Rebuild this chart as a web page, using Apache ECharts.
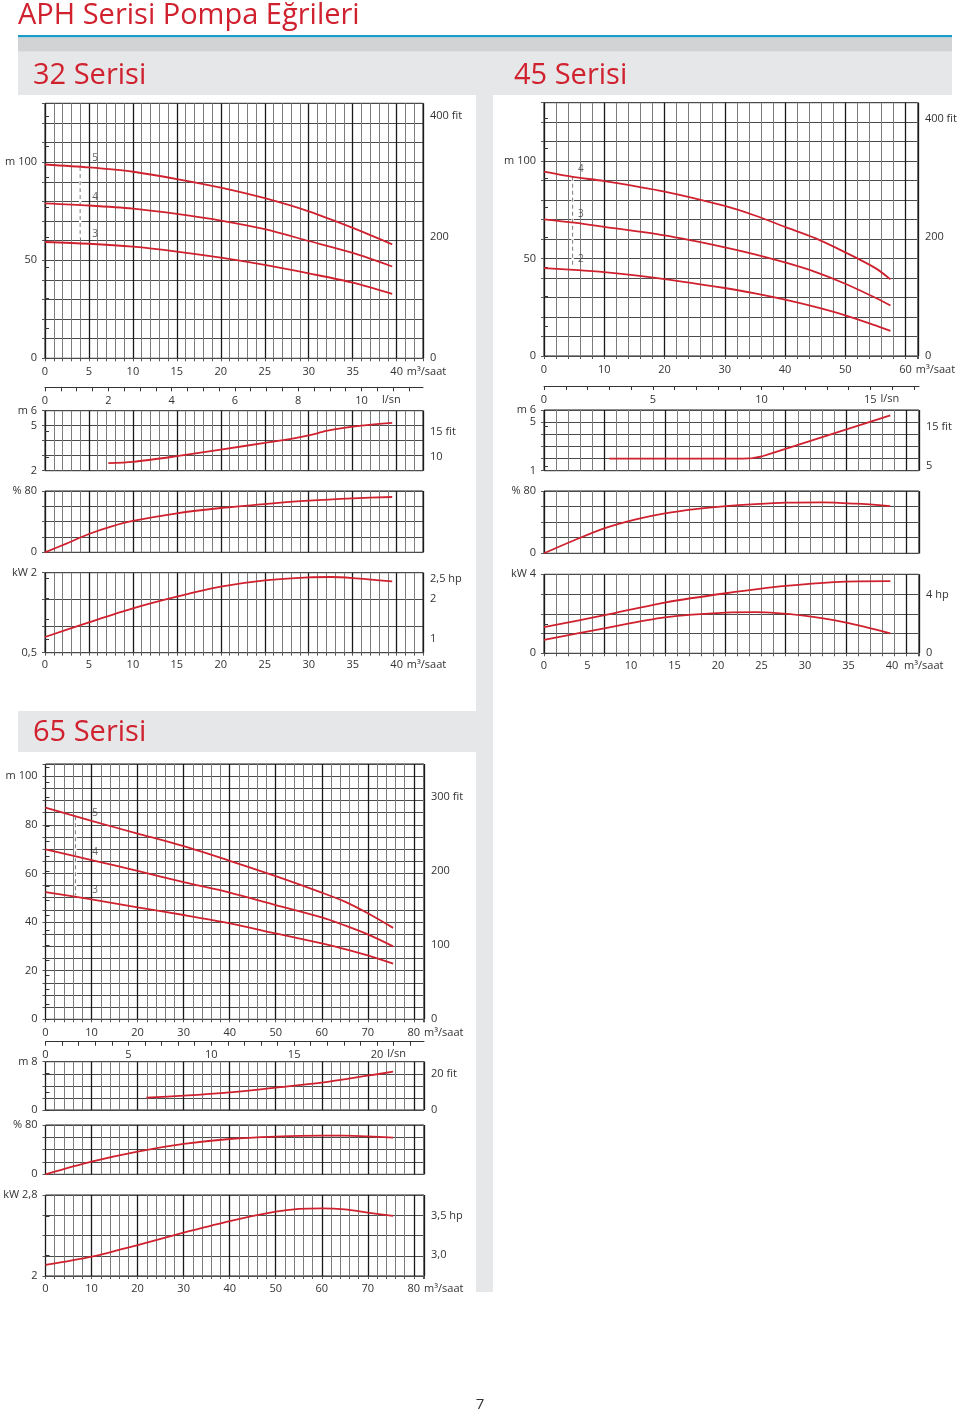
<!DOCTYPE html>
<html><head><meta charset="utf-8">
<script src="https://cdn.jsdelivr.net/npm/echarts@6/dist/echarts.min.js"></script>
<style>html,body{margin:0;padding:0;background:#fff}#c{width:960px;height:1413px}</style>
</head><body><div id="c"></div>
<script>
// ---------------- DATA ----------------
// 32 Serisi  (flow in m3/saat)
const q32Head = [0, 5, 10, 15, 20, 25, 30, 35, 39.5];
const h32St5 = [98.8, 97.3, 95.1, 91.4, 87.0, 81.6, 74.9, 66.5, 58.1];
const h32St4 = [79.0, 77.9, 76.3, 73.6, 70.2, 65.8, 59.8, 53.7, 46.8];
const h32St3 = [59.3, 58.4, 56.9, 54.4, 51.3, 47.6, 43.3, 38.6, 32.8];
const q32Npsh = [7.2, 10, 15, 20, 25, 28, 30, 32, 34, 36, 39.5];
const npsh32 = [2.51, 2.59, 2.97, 3.41, 3.85, 4.12, 4.35, 4.65, 4.86, 5.01, 5.19];
const q32Eff = [0, 2.5, 5, 7.5, 10, 15, 20, 25, 30, 35, 39.5];
const eff32 = [0, 11.7, 23.9, 33.5, 40.9, 50.9, 57.8, 63.0, 67.4, 70.4, 72.2];
const q32Pow = [0, 5, 10, 15, 20, 25, 30, 32.5, 35, 39.5];
const pow32 = [0.794, 1.069, 1.331, 1.55, 1.738, 1.856, 1.913, 1.919, 1.90, 1.838];
const stages32 = [['5', 5.7, 102], ['4', 5.7, 82.4], ['3', 5.7, 63.3]];
const dash32 = [[4, 97.5], [4, 61.5]];

// 45 Serisi
const q45Head = [0, 5, 10, 20, 30, 35, 40, 45, 50, 55, 57.5];
const h45St4 = [94.6, 91.8, 89.8, 84.4, 77.0, 72.1, 66.3, 60.5, 53.2, 45.1, 39.3];
const h45St3 = [70.1, 68.4, 66.3, 61.9, 55.8, 52.2, 48.0, 43.2, 37.1, 29.9, 25.9];
const h45St2 = [45.1, 44.2, 43.0, 39.5, 34.9, 32.1, 28.9, 25.2, 20.9, 15.7, 12.9];
const q45Npsh = [10.8, 33, 34.5, 36, 37.5, 57.3];
const npsh45 = [1.99, 1.99, 2.03, 2.17, 2.40, 5.56];
const q45Eff = [0, 5.1, 10.2, 15.2, 20, 25, 30.1, 35, 40, 46.1, 51.6, 57.3];
const eff45 = [0, 17.1, 32.6, 43.6, 51.3, 56.8, 60.7, 63.2, 65.0, 65.4, 63.7, 60.7];
const q45PowA = [0, 10.2, 20, 30.1, 40, 49.9, 57.3];
const pow45A = [1.32, 1.94, 2.57, 3.04, 3.41, 3.63, 3.65];
const q45PowB = [0, 10.2, 20, 30.1, 35, 43.3, 50, 57.3];
const pow45B = [0.675, 1.28, 1.82, 2.06, 2.08, 1.89, 1.55, 1.01];
const stages45 = [['4', 6.1, 96], ['3', 6.1, 72.7], ['2', 6.1, 49.6]];
const dash45 = [[4.75, 92], [4.75, 46]];

// 65 Serisi
const q65Head = [0, 10, 20, 30, 40, 50, 60, 65, 70, 75.5];
const h65St5 = [87.1, 81.6, 76.4, 71.2, 65.2, 58.9, 52.1, 48.4, 43.6, 37.6];
const h65St4 = [69.9, 65.5, 61.0, 56.4, 52.1, 47.0, 41.9, 38.6, 34.9, 30.0];
const h65St3 = [52.3, 49.3, 46.0, 42.9, 39.5, 35.3, 31.2, 28.9, 26.3, 22.9];
const q65Npsh = [21.9, 30, 40, 50, 60, 70, 75.5];
const npsh65 = [2.04, 2.37, 2.92, 3.70, 4.52, 5.68, 6.34];
const q65Eff = [0, 10, 20, 30, 40, 50, 60, 65, 70, 75.5];
const eff65 = [0, 20.5, 36.8, 49.2, 57.3, 61.1, 62.7, 62.7, 61.6, 59.5];
const q65Pow = [0, 10, 20, 30, 40, 50, 55, 60, 65, 70, 75.5];
const pow65 = [2.109, 2.191, 2.306, 2.428, 2.543, 2.635, 2.662, 2.668, 2.658, 2.626, 2.593];
const stages65 = [['5', 10.75, 84.7], ['4', 10.75, 68.9], ['3', 10.75, 53.2]];
const dash65 = [[6.5, 83.5], [6.5, 51]];

// tick labels
const headLeft = [[0, '0'], [50, '50'], [100, 'm 100']];
const headFit = [[0, '0'], [200, '200'], [400, '400 fit']];
const effLeft = [[0, '0'], [80, '% 80']];
const y32Npsh = [[2, '2'], [5, '5'], [6, 'm 6']];
const r32Npsh = [[10, '10'], [15, '15 fit']];
const y32Pow = [[0.5, '0,5'], [2, 'kW 2']];
const r32Pow = [[1, '1'], [2, '2'], [2.5, '2,5 hp']];
const y45Npsh = [[1, '1'], [5, '5'], [6, 'm 6']];
const r45Npsh = [[5, '5'], [15, '15 fit']];
const y45Pow = [[0, '0'], [4, 'kW 4']];
const r45Pow = [[0, '0'], [4, '4 hp']];
const y65Head = [[0, '0'], [20, '20'], [40, '40'], [60, '60'], [80, '80'], [100, 'm 100']];
const r65Head = [[0, '0'], [100, '100'], [200, '200'], [300, '300 fit']];
const y65Npsh = [[0, '0'], [8, 'm 8']];
const r65Npsh = [[0, '0'], [20, '20 fit']];
const y65Pow = [[2, '2'], [2.8, 'kW 2,8']];
const r65Pow = [[3, '3,0'], [3.5, '3,5 hp']];
const lsn32 = [0, 2, 4, 6, 8, 10];
const lsn45 = [0, 5, 10, 15];
const lsn65 = [0, 5, 10, 15, 20];

// ---------------- BUILD ----------------
const FONT = "'Open Sans', 'Noto Sans', sans-serif";
const RED = '#d0212f';
const grid = [], xAxis = [], yAxis = [], series = [];
const lbl = (e) => Object.assign({ color: '#333', fontSize: 11, fontFamily: FONT }, e || {});
const fmt = (pairs) => (v) => { for (const [k, t] of pairs) if (Math.abs(v - k) < 1e-6) return t; return ''; };
const isMult = (v, s) => Math.abs(v / s - Math.round(v / s)) < 1e-6;
const range = (a, b, s) => { const r = []; for (let v = a; v <= b + 1e-9; v += s) r.push(Math.round(v * 1000) / 1000); return r; };

function chartBox(p) {
  const gi = grid.length;
  grid.push({ left: p.left, top: p.top, width: p.width, height: p.height, show: true,
    borderColor: '#1e1e1e', borderWidth: 1, backgroundColor: 'rgba(0,0,0,0)' });
  // minor vertical lines
  xAxis.push({ gridIndex: gi, type: 'value', position: 'bottom', min: 0, max: p.xmax, interval: p.xMinor,
    axisLine: { show: false }, axisTick: { show: !!p.ticks, length: 3, lineStyle: { color: '#555' } },
    axisLabel: { show: false }, splitLine: { show: true, lineStyle: { color: '#7c7c7c', width: 1 } } });
  // major vertical lines
  const major = { gridIndex: gi, type: 'value', position: 'bottom', min: 0, max: p.xmax, interval: p.xMajor,
    axisLine: { show: false }, axisTick: { show: false }, axisLabel: { show: false },
    splitLine: { show: true, lineStyle: { color: '#1a1a1a', width: 1.3 } } };
  const xl = p.xLabels;
  if (xl && !xl.axisMax) {
    major.axisLabel = lbl({ show: true, margin: xl.margin, interval: 0, formatter: (v) => isMult(v, xl.step) ? String(v) : '' });
    Object.assign(major, { name: 'm³/saat', nameLocation: 'end', nameGap: xl.gap,
      nameTextStyle: lbl({ align: 'left', verticalAlign: 'top', padding: [xl.margin, 0, 0, 0] }) });
  }
  xAxis.push(major);
  const xi = xAxis.length - 1;
  if (xl && xl.axisMax) {
    xAxis.push({ gridIndex: gi, type: 'value', position: 'bottom', min: 0, max: xl.axisMax, interval: xl.step,
      axisLine: { show: false }, axisTick: { show: false }, splitLine: { show: false },
      axisLabel: lbl({ show: true, margin: xl.margin, interval: 0, formatter: (v) => isMult(v, xl.step) ? String(v) : '' }),
      name: 'm³/saat', nameLocation: 'end', nameGap: xl.gap,
      nameTextStyle: lbl({ align: 'left', verticalAlign: 'top', padding: [xl.margin, 0, 0, 0] }) });
  }
  if (p.lsn) {
    xAxis.push({ gridIndex: gi, type: 'value', position: 'top', offset: p.lsn.offset, min: 0, max: p.lsn.max,
      axisLine: { show: true, lineStyle: { color: '#333', width: 1 } },
      axisTick: { show: true, inside: true, length: 4, customValues: range(0, p.lsn.max, p.lsn.tick), lineStyle: { color: '#333' } },
      axisLabel: lbl({ show: true, inside: true, margin: 8, customValues: p.lsn.labels, formatter: (v) => String(v) }),
      splitLine: { show: false },
      name: 'l/sn', nameLocation: 'end', nameGap: p.lsn.gap,
      nameTextStyle: lbl({ align: 'left', verticalAlign: 'top', padding: [7, 0, 0, 0] }) });
  }
  yAxis.push({ gridIndex: gi, type: 'value', position: 'left', min: p.ymin, max: p.ymax, interval: p.yInt,
    axisLine: { show: false }, axisTick: { show: true, length: 3, lineStyle: { color: '#555' } },
    axisLabel: lbl({ margin: 8, interval: 0, formatter: fmt(p.yLabels) }),
    splitLine: { show: true, lineStyle: { color: '#4a4a4a', width: 1 } } });
  const yi = yAxis.length - 1;
  if (p.right) {
    yAxis.push({ gridIndex: gi, type: 'value', position: 'right', min: p.right.min, max: p.right.max,
      axisLine: { show: false },
      axisTick: { show: true, length: 4, customValues: p.right.ticks, lineStyle: { color: '#333' } },
      axisLabel: lbl({ margin: 7, customValues: p.right.labels.map(a => a[0]), formatter: fmt(p.right.labels) }),
      splitLine: { show: false } });
  }
  return { xi, yi };
}

function curve(ax, xs, ys, smooth) {
  series.push({ type: 'line', xAxisIndex: ax.xi, yAxisIndex: ax.yi, data: xs.map((x, i) => [x, ys[i]]),
    smooth: smooth === undefined ? 0.3 : smooth, symbol: 'none', showSymbol: false, silent: true,
    lineStyle: { color: RED, width: 1.8 }, z: 5 });
}
function stageMarks(ax, st, dash) {
  series.push({ type: 'scatter', xAxisIndex: ax.xi, yAxisIndex: ax.yi, symbol: 'circle', symbolSize: 2, silent: true,
    itemStyle: { color: 'rgba(0,0,0,0)' }, data: st.map(s => ({ value: [s[1], s[2]], name: s[0] })),
    label: { show: true, position: 'inside', formatter: (d) => d.name, color: '#3a3a3a', fontSize: 10, fontFamily: FONT }, z: 6 });
  // white gap in the grid under the dashed marker line, then the dashes
  series.push({ type: 'line', xAxisIndex: ax.xi, yAxisIndex: ax.yi, data: dash, symbol: 'none', silent: true,
    lineStyle: { color: '#ffffff', width: 2.5 }, z: 3 });
  series.push({ type: 'line', xAxisIndex: ax.xi, yAxisIndex: ax.yi, data: dash, symbol: 'none', silent: true,
    lineStyle: { color: '#7a7a7a', width: 1, type: [4, 3] }, z: 4 });
}

// ---- 32 Serisi ----
const L32 = 45, W32 = 378, X32 = 43;
const a32h = chartBox({ left: L32, top: 103.3, width: W32, height: 255, xmax: X32, xMajor: 5, xMinor: 1, ticks: true,
  ymin: 0, ymax: 130, yInt: 10, yLabels: headLeft, xLabels: { step: 5, margin: 8, gap: -17 },
  right: { min: 0, max: 421.5, ticks: range(0, 400, 50), labels: headFit } });
curve(a32h, q32Head, h32St5); curve(a32h, q32Head, h32St4); curve(a32h, q32Head, h32St3);
stageMarks(a32h, stages32, dash32);
const a32n = chartBox({ left: L32, top: 410.7, width: W32, height: 60, xmax: X32, xMajor: 5, xMinor: 1,
  ymin: 2, ymax: 6, yInt: 1, yLabels: y32Npsh,
  lsn: { offset: 23.4, max: X32 / 3.6, tick: 0.5, labels: lsn32, gap: -41 },
  right: { min: 7.38, max: 19.1, ticks: [10, 15], labels: r32Npsh } });
curve(a32n, q32Npsh, npsh32);
const a32e = chartBox({ left: L32, top: 491, width: W32, height: 61.3, xmax: X32, xMajor: 5, xMinor: 1,
  ymin: 0, ymax: 80, yInt: 20, yLabels: effLeft });
curve(a32e, q32Eff, eff32);
const a32p = chartBox({ left: L32, top: 572.7, width: W32, height: 80, xmax: X32, xMajor: 5, xMinor: 1, ticks: true,
  ymin: 0.5, ymax: 2, yInt: 0.5, yLabels: y32Pow, xLabels: { step: 5, margin: 7, gap: -17 },
  right: { min: 0.661, max: 2.641, ticks: [1, 1.5, 2, 2.5], labels: r32Pow } });
curve(a32p, q32Pow, pow32);

// ---- 45 Serisi ----
const L45 = 544, W45 = 375, X45 = 62.05;
const a45h = chartBox({ left: L45, top: 102.7, width: W45, height: 253.3, xmax: X45, xMajor: 10, xMinor: 2, ticks: true,
  ymin: 0, ymax: 130, yInt: 10, yLabels: headLeft, xLabels: { step: 10, margin: 8, gap: -4 },
  right: { min: 0, max: 426.5, ticks: range(0, 400, 50), labels: headFit } });
curve(a45h, q45Head, h45St4); curve(a45h, q45Head, h45St3); curve(a45h, q45Head, h45St2);
stageMarks(a45h, stages45, dash45);
const a45n = chartBox({ left: L45, top: 410, width: W45, height: 60.7, xmax: X45, xMajor: 10, xMinor: 2,
  ymin: 1, ymax: 6, yInt: 1, yLabels: y45Npsh,
  lsn: { offset: 24, max: X45 / 3.6, tick: 1, labels: lsn45, gap: -43 },
  right: { min: 3.8, max: 19.25, ticks: [5, 10, 15], labels: r45Npsh } });
curve(a45n, q45Npsh, npsh45, false);
const a45e = chartBox({ left: L45, top: 491, width: W45, height: 62.3, xmax: X45, xMajor: 10, xMinor: 2,
  ymin: 0, ymax: 80, yInt: 20, yLabels: effLeft });
curve(a45e, q45Eff, eff45);
const a45p = chartBox({ left: L45, top: 574.3, width: W45, height: 79, xmax: X45, xMajor: 10, xMinor: 2, ticks: true,
  ymin: 0, ymax: 4, yInt: 1, yLabels: y45Pow, xLabels: { step: 5, margin: 7, gap: -15, axisMax: 43.1 },
  right: { min: 0, max: 5.364, ticks: [0, 2, 4], labels: r45Pow } });
curve(a45p, q45PowA, pow45A); curve(a45p, q45PowB, pow45B);

// ---- 65 Serisi ----
const L65 = 45.5, W65 = 378.5, X65 = 82.2;
const a65h = chartBox({ left: L65, top: 764, width: W65, height: 255.3, xmax: X65, xMajor: 10, xMinor: 2, ticks: true,
  ymin: 0, ymax: 105, yInt: 5, yLabels: y65Head, xLabels: { step: 10, margin: 8, gap: 0 },
  right: { min: 0, max: 344.5, ticks: range(0, 340, 20), labels: r65Head } });
curve(a65h, q65Head, h65St5); curve(a65h, q65Head, h65St4); curve(a65h, q65Head, h65St3);
stageMarks(a65h, stages65, dash65);
const a65n = chartBox({ left: L65, top: 1061.7, width: W65, height: 48.3, xmax: X65, xMajor: 10, xMinor: 2,
  ymin: 0, ymax: 8, yInt: 2, yLabels: y65Npsh,
  lsn: { offset: 20, max: X65 / 3.6, tick: 1, labels: lsn65, gap: -39 },
  right: { min: 0, max: 26.5, ticks: [0, 10, 20], labels: r65Npsh } });
curve(a65n, q65Npsh, npsh65);
const a65e = chartBox({ left: L65, top: 1125, width: W65, height: 49.3, xmax: X65, xMajor: 10, xMinor: 2,
  ymin: 0, ymax: 80, yInt: 20, yLabels: effLeft });
curve(a65e, q65Eff, eff65);
const a65p = chartBox({ left: L65, top: 1195, width: W65, height: 81, xmax: X65, xMajor: 10, xMinor: 2, ticks: true,
  ymin: 2, ymax: 2.8, yInt: 0.2, yLabels: y65Pow, xLabels: { step: 10, margin: 7, gap: 0 },
  right: { min: 2.731, max: 3.769, ticks: [3, 3.5], labels: r65Pow } });
curve(a65p, q65Pow, pow65);

// ---- page decoration ----
const GREY = '#e6e7e8';
const graphic = [
  { type: 'rect', shape: { x: 18, y: 35, width: 934, height: 2.5 }, style: { fill: '#1a9cc8' } },
  { type: 'rect', shape: { x: 18, y: 37.5, width: 934, height: 14.2 }, style: { fill: '#d2d3d4' } },
  { type: 'rect', shape: { x: 18, y: 51.7, width: 934, height: 43.3 }, style: { fill: GREY } },
  { type: 'rect', shape: { x: 476, y: 95, width: 17, height: 1197 }, style: { fill: GREY } },
  { type: 'rect', shape: { x: 18, y: 711, width: 458, height: 41 }, style: { fill: GREY } },
  { type: 'text', style: { x: 18, y: 16, text: 'APH Serisi Pompa Eğrileri', font: "29px 'Open Sans'", fill: RED, verticalAlign: 'middle' } },
  { type: 'text', style: { x: 33, y: 76, text: '32 Serisi', font: "29px 'Open Sans'", fill: RED, verticalAlign: 'middle' } },
  { type: 'text', style: { x: 514, y: 76, text: '45 Serisi', font: "29px 'Open Sans'", fill: RED, verticalAlign: 'middle' } },
  { type: 'text', style: { x: 33, y: 733, text: '65 Serisi', font: "29px 'Open Sans'", fill: RED, verticalAlign: 'middle' } },
  { type: 'text', style: { x: 480, y: 1405, text: '7', font: "15px 'Open Sans'", fill: '#333', align: 'center', verticalAlign: 'middle' } }
];

const chart = echarts.init(document.getElementById('c'));
chart.setOption({ animation: false, backgroundColor: '#fff', textStyle: { fontFamily: FONT },
  grid, xAxis, yAxis, series, graphic });
</script></body></html>
